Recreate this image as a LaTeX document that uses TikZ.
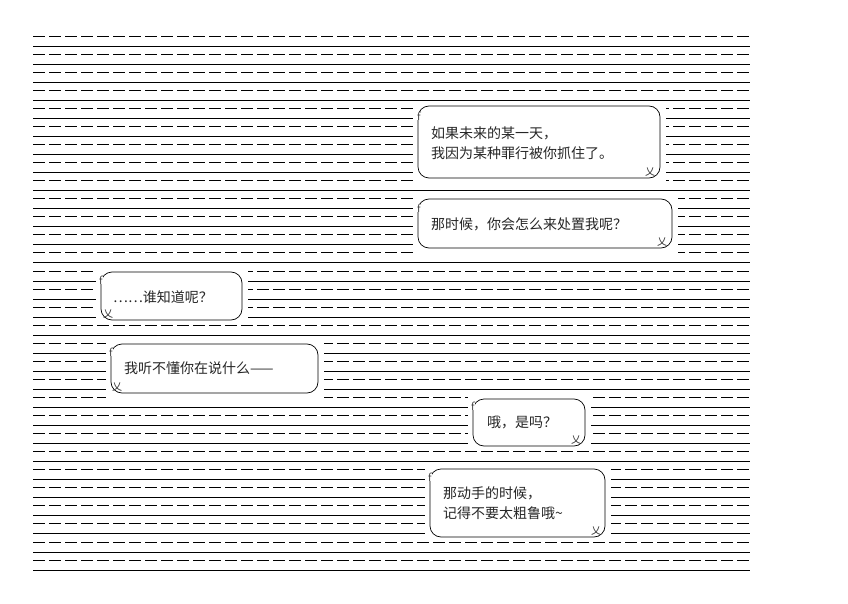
\documentclass[tikz,border=0pt]{standalone}
\usepackage{fontspec}
\newfontfamily\cjk{Noto Sans CJK SC}
\tikzset{
  dashrow/.style={line width=0.8pt,dash pattern=on 12pt off 4pt},
  fullrow/.style={line width=0.8pt},
  bubble/.style={draw,line width=0.7pt,fill=white,rounded corners=11pt},
  say/.style={anchor=west,inner sep=0pt,font=\cjk\fontsize{14}{20}\selectfont,align=left,text=black!85},
  aamark/.style={inner sep=0pt,font=\sffamily\fontsize{12}{12}\selectfont,text=black!80},
}
% frame of one speech bubble, pixel corners
\newcommand\talkframe[4]{%
  \fill[white] (#1-5,#2-5) rectangle (#3+6,#4+5);%
  \draw[bubble] (#1,#2) rectangle (#3,#4);%
}
\begin{document}
\begin{tikzpicture}[x=1pt,y=-1pt]
  \useasboundingbox (0,0) rectangle (848,604);%

  \foreach \i in {0,...,29}{%
    \draw[dashrow] (33,36+18.07*\i) -- (750,36+18.07*\i);%
    \draw[fullrow] (33,46+18.07*\i) -- (750,46+18.07*\i);%
  }

  \talkframe{418}{106}{660}{178}
  \node[aamark,fill=white] (f1) at (419,116) {f};%
  \node[aamark,font=\cjk] (x1) at (650,172) {乂};%
  \node[say] (t1) at (431,143) {如果未来的某一天，\\我因为某种罪行被你抓住了。};%

  \talkframe{418}{199}{672}{248}
  \node[aamark,fill=white] (f2) at (419,208) {f};%
  \node[aamark,font=\cjk] (x2) at (662,242) {乂};%
  \node[say] (t2) at (431,224) {那时候，你会怎么来处置我呢？};%

  \talkframe{101}{272}{242}{320}
  \node[aamark,fill=white] (f3) at (101,280) {f};%
  \node[aamark,font=\cjk] (x3) at (108,314) {乂};%
  \node[say] (t3) at (113,297) {……谁知道呢？};%

  \talkframe{111}{344}{318}{393}
  \node[aamark,fill=white] (f4) at (111,352) {f};%
  \node[aamark,font=\cjk] (x4) at (117,387) {乂};%
  \node[say] (t4) at (124,368) {我听不懂你在说什么——};%

  \talkframe{473}{399}{585}{446}
  \node[aamark,fill=white] (f5) at (473,406) {f};%
  \node[aamark,font=\cjk] (x5) at (576,440) {乂};%
  \node[say] (t5) at (487,422) {哦，是吗？};%

  \talkframe{430}{469}{605}{537}
  \node[aamark,fill=white] (f6) at (430,477) {f};%
  \node[aamark,font=\cjk] (x6) at (596,531) {乂};%
  \node[say] (t6) at (443,503) {那动手的时候，\\记得不要太粗鲁哦\textasciitilde};%
\end{tikzpicture}
\end{document}
